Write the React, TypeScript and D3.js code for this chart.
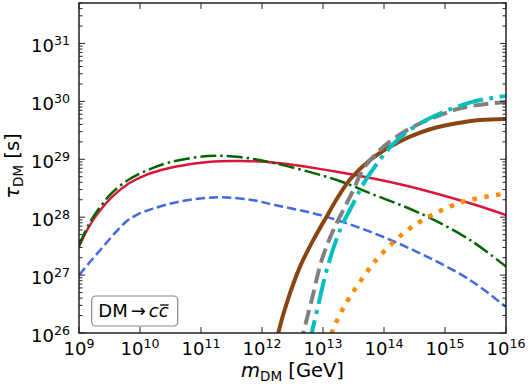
import React, { useRef, useLayoutEffect, useState } from "react";
import * as d3 from "d3";

const W = 531;
const H = 389;
const PL = 79, PR = 506, PT = 3, PB = 333;

const xTickVals = [1e9, 1e10, 1e11, 1e12, 1e13, 1e14, 1e15, 1e16];
const xTickExps = ["9", "10", "11", "12", "13", "14", "15", "16"];
const yTickVals = [1e26, 1e27, 1e28, 1e29, 1e30, 1e31];
const yTickExps = ["26", "27", "28", "29", "30", "31"];

const redCurve: [number, number][] = [
  [1e9, 3.09e27], [1.46e9, 6.86e27], [2.13e9, 1.24e28], [3.52e9, 2.26e28], [6.6e9, 3.85e28],
  [1.24e10, 5.35e28], [2.32e10, 6.6e28], [4.35e10, 7.66e28], [1.3e11, 8.98e28], [4.65e11, 9.33e28],
  [1.63e12, 8.73e28], [1.68e13, 6.1e28], [2.07e14, 3.6e28], [2.57e15, 1.74e28], [1e16, 1.09e28],
];
const greenCurve: [number, number][] = [
  [1e9, 3.31e27], [1.46e9, 7.64e27], [2.13e9, 1.41e28], [3.52e9, 2.67e28], [6.6e9, 4.48e28],
  [1.24e10, 6.28e28], [2.99e10, 8.81e28], [1.32e11, 1.14e29], [4.65e11, 1.08e29], [1.63e12, 8.53e28],
  [1.68e13, 4.39e28], [5.89e13, 2.59e28], [3.89e14, 1.17e28], [2.57e15, 4.04e27], [1e16, 1.4e27],
];
const blueCurve: [number, number][] = [
  [1e9, 1.0e27], [1.51e9, 1.68e27], [2.27e9, 2.77e27], [3.52e9, 4.73e27], [5.83e9, 8.26e27],
  [9.04e9, 1.11e28], [1.59e10, 1.39e28], [4.35e10, 1.85e28], [1.92e11, 2.21e28], [6.78e11, 1.98e28],
  [1.63e12, 1.62e28], [8.93e12, 1.09e28], [5.89e13, 5.62e27], [3.89e14, 2.38e27], [2.57e15, 8.22e26],
  [1e16, 2.81e26],
];
const brownCurve: [number, number][] = [
  [1.7e12, 6.2e25], [1.85e12, 1.0e26], [2.54e12, 3.26e26], [4.2e12, 1.4e27], [6.93e12, 4.04e27],
  [1.15e13, 1.03e28], [1.68e13, 2.06e28], [2.77e13, 4.48e28], [5.9e13, 9.7e28], [1.25e14, 1.65e29],
  [2.67e14, 2.46e29], [5.68e14, 3.3e29], [1.56e15, 4.19e29], [3.75e15, 4.78e29], [1e16, 4.97e29],
];
const grayCurve: [number, number][] = [
  [4.28e12, 6.2e25], [4.75e12, 1.0e26], [6.53e12, 3.72e26], [9.53e12, 1.82e27], [1.48e13, 6.0e27],
  [2.45e13, 1.74e28], [3.14e13, 2.95e28], [4.58e13, 6.8e28], [8.6e13, 1.45e29], [1.61e14, 2.46e29],
  [3.44e14, 3.91e29], [7.3e14, 5.48e29], [2.0e15, 7.85e29], [1e16, 9.8e29],
];
const cyanCurve: [number, number][] = [
  [5.8e12, 6.2e25], [6.53e12, 1.0e26], [8.38e12, 3.05e26], [1.15e13, 1.22e27], [1.9e13, 6.0e27],
  [3.35e13, 1.98e28], [4.58e13, 3.74e28], [7.59e13, 8.3e28], [1.42e14, 1.84e29], [3.02e14, 3.54e29],
  [8.28e14, 6.18e29], [2.91e15, 9.9e29], [1e16, 1.24e30],
];
const orangeCurve: [number, number][] = [
  [1.21e13, 6.2e25], [1.39e13, 1.0e26], [1.68e13, 1.61e26], [2.45e13, 3.43e26], [3.8e13, 7.01e26],
  [6.29e13, 1.47e27], [8.07e13, 2.01e27], [2.07e14, 5.27e27], [5.68e14, 1.05e28], [2.0e15, 1.85e28],
  [1e16, 2.56e28],
];

const FONT = "DejaVu Sans, sans-serif";

export default function App() {
  const x = d3.scaleLog().domain([1e9, 1e16]).range([PL, PR]);
  const y = d3.scaleLog().domain([1e26, 5e31]).range([PB, PT]);
  const line = d3
    .line<[number, number]>()
    .x((d) => x(d[0]))
    .y((d) => y(d[1]))
    .curve(d3.curveCatmullRom.alpha(0.5));

  const minorY: number[] = [];
  for (let e = 26; e <= 31; e++) {
    for (let k = 2; k <= 9; k++) {
      const v = k * Math.pow(10, e);
      if (v <= 5e31) minorY.push(v);
    }
  }

  const textRef = useRef<SVGTextElement>(null);
  const [bar, setBar] = useState<[number, number] | null>(null);
  useLayoutEffect(() => {
    const t = textRef.current;
    if (t) {
      try {
        const n = t.getNumberOfChars();
        const s = t.getStartPositionOfChar(n - 1).x;
        const e = t.getEndPositionOfChar(n - 1).x;
        setBar([s, e]);
      } catch (err) {
        /* ignore */
      }
    }
  }, []);

  const series = [
    { d: redCurve, color: "#DC143C", w: 2.4, dash: undefined as string | undefined },
    { d: greenCurve, color: "#006400", w: 2.5, dash: "16,4,2.5,4" },
    { d: blueCurve, color: "#4169E1", w: 2.5, dash: "9.2,4" },
    { d: brownCurve, color: "#8B4513", w: 4, dash: undefined },
    { d: grayCurve, color: "#808080", w: 4, dash: "14.8,6.4" },
    { d: cyanCurve, color: "#00BFBF", w: 4, dash: "25.6,6.4,4,6.4" },
    { d: orangeCurve, color: "#FF8C00", w: 4.5, dash: "4.5,7.4" },
  ];

  return (
    <svg width={W} height={H} style={{ position: "absolute", left: 0, top: 0, background: "#fff" }} fontFamily={FONT}>
      <defs>
        <clipPath id="plotclip">
          <rect x={PL} y={PT} width={PR - PL} height={PB - PT} />
        </clipPath>
      </defs>
      <rect x={0} y={0} width={W} height={H} fill="#fff" />
      <g clipPath="url(#plotclip)">
        {series.map((s, i) => (
          <path
            key={i}
            d={line(s.d) || ""}
            fill="none"
            stroke={s.color}
            strokeWidth={s.w}
            strokeDasharray={s.dash}
            strokeLinecap="butt"
          />
        ))}
      </g>
      <g stroke="#222" strokeWidth={1}>
        {xTickVals.map((v, i) => (
          <g key={"xt" + i}>
            <line x1={x(v)} x2={x(v)} y1={PB} y2={PB - 6} />
            <line x1={x(v)} x2={x(v)} y1={PT} y2={PT + 6} />
          </g>
        ))}
        {yTickVals.map((v, i) => (
          <g key={"yt" + i}>
            <line x1={PL} x2={PL + 6} y1={y(v)} y2={y(v)} />
            <line x1={PR} x2={PR - 6} y1={y(v)} y2={y(v)} />
          </g>
        ))}
        {minorY.map((v, i) => (
          <g key={"ym" + i}>
            <line x1={PL} x2={PL + 3.5} y1={y(v)} y2={y(v)} />
            <line x1={PR} x2={PR - 3.5} y1={y(v)} y2={y(v)} />
          </g>
        ))}
      </g>
      <rect x={PL} y={PT} width={PR - PL} height={PB - PT} fill="none" stroke="#222" strokeWidth={1.5} />
      {xTickVals.map((v, i) => (
        <text key={"xl" + i} x={x(v)} y={355} textAnchor="middle" fontSize={18} fill="#000">
          10<tspan dy={-7} fontSize={12.6}>{xTickExps[i]}</tspan>
        </text>
      ))}
      {yTickVals.map((v, i) => (
        <text key={"yl" + i} x={70} y={y(v) + 9} textAnchor="end" fontSize={18} fill="#000">
          10<tspan dy={-7} fontSize={12.6}>{yTickExps[i]}</tspan>
        </text>
      ))}
      <text x={(PL + PR) / 2} y={377} textAnchor="middle" fontSize={19.5} fill="#000">
        <tspan fontStyle="italic">m</tspan>
        <tspan dy={3.5} fontSize={13.5}>DM</tspan>
        <tspan dy={-3.5}> [GeV]</tspan>
      </text>
      <text
        transform={`translate(19, ${(PT + PB) / 2 - 2}) rotate(-90)`}
        textAnchor="middle"
        fontSize={19.5}
        fill="#000"
      >
        <tspan fontStyle="italic">τ</tspan>
        <tspan dy={3.5} fontSize={13.5}>DM</tspan>
        <tspan dy={-3.5}> [s]</tspan>
      </text>
      <rect x={91.7} y={296} width={86} height={30} rx={4} ry={4} fill="#fff" stroke="#888" strokeWidth={1.2} />
      <text ref={textRef} x={98.3} y={316.7} fontSize={18} fill="#000">
        DM<tspan dx={3}>→</tspan>
        <tspan dx={3} fontStyle="italic">c</tspan>
        <tspan fontStyle="italic">c</tspan>
      </text>
      {bar && (
        <line x1={bar[0] + 1.5} x2={bar[1]} y1={305} y2={305} stroke="#000" strokeWidth={1.3} />
      )}
    </svg>
  );
}
